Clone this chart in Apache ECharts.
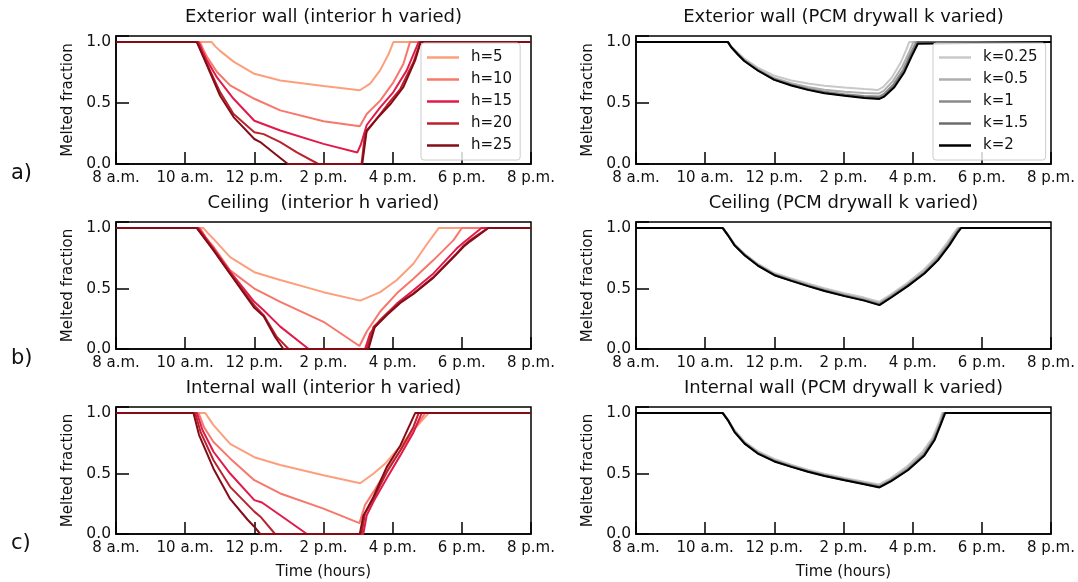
<!DOCTYPE html>
<html>
<head>
<meta charset="utf-8">
<script src="https://cdn.jsdelivr.net/npm/echarts@6/dist/echarts.min.js"></script>
<style>
  html, body { margin: 0; background: #fff; }
  #chart { width: 1078px; height: 582px; }
</style>
</head>
<body>
<div id="chart"></div>
<script>
// x in hours of the day, y = melted fraction
const TICK_HOURS  = [8, 10, 12, 14, 16, 18, 20]
const TICK_LABELS = ['8 a.m.', '10 a.m.', '12 p.m.', '2 p.m.', '4 p.m.', '6 p.m.', '8 p.m.']

const H_NAMES = ['h=5', 'h=10', 'h=15', 'h=20', 'h=25']
const K_NAMES = ['k=0.25', 'k=0.5', 'k=1', 'k=1.5', 'k=2']
const H_COLORS = ['#fc9f7d', '#f7776a', '#e01b4c', '#b8232e', '#850c16']
const K_COLORS = ['#c8c8c8', '#aeaeae', '#8a8a8a', '#6c6c6c', '#000000']

const TITLES = [
  ['Exterior wall (interior h varied)', 'Exterior wall (PCM drywall k varied)'],
  ['Ceiling  (interior h varied)',      'Ceiling (PCM drywall k varied)'],
  ['Internal wall (interior h varied)', 'Internal wall (PCM drywall k varied)'],
]
const ROW_TAGS = ['a)', 'b)', 'c)']

// Exterior wall, h varied
const extH5  = [[8,1],[10.77,1],[10.87,0.965],[11.0,0.93],[11.4,0.84],[12.0,0.74],[12.75,0.685],[14.0,0.64],[15.05,0.605],[15.35,0.66],[15.64,0.77],[15.88,0.9],[16.02,1],[20,1]]
const extH10 = [[8,1],[10.43,1],[10.52,0.94],[10.63,0.88],[10.92,0.755],[11.3,0.645],[12.0,0.535],[12.75,0.44],[14.0,0.35],[15.05,0.31],[15.25,0.41],[15.64,0.52],[16.02,0.67],[16.31,0.82],[16.5,1],[20,1]]
const extH15 = [[8,1],[10.39,1],[10.5,0.925],[10.63,0.85],[10.92,0.71],[11.4,0.535],[12.0,0.355],[12.75,0.275],[14.0,0.165],[14.98,0.095],[15.08,0.16],[15.25,0.32],[15.64,0.465],[16.02,0.59],[16.41,0.77],[16.75,1],[20,1]]
const extH20 = [[8,1],[10.34,1],[10.63,0.82],[11.01,0.59],[11.4,0.41],[12.0,0.26],[12.27,0.245],[12.75,0.18],[13.23,0.095],[13.85,0],[15.1,0],[15.2,0.25],[15.45,0.34],[15.83,0.48],[16.22,0.615],[16.6,0.835],[16.8,1],[20,1]]
const extH25 = [[8,1],[10.34,1],[10.63,0.81],[11.01,0.56],[11.4,0.385],[12.0,0.205],[12.17,0.18],[12.55,0.095],[12.97,0],[15.12,0],[15.25,0.275],[15.54,0.37],[15.93,0.49],[16.31,0.63],[16.65,0.85],[16.81,1],[20,1]]

// Ceiling, h varied
const ceilH5  = [[8,1],[10.53,1],[10.65,0.96],[10.82,0.91],[11.3,0.76],[12.0,0.635],[12.75,0.57],[14.0,0.47],[15.06,0.4],[15.64,0.47],[16.12,0.57],[16.6,0.705],[17.0,0.87],[17.33,1],[20,1]]
const ceilH10 = [[8,1],[10.43,1],[10.6,0.92],[10.82,0.845],[11.3,0.65],[12.0,0.5],[12.75,0.39],[14.0,0.225],[15.04,0.025],[15.25,0.145],[15.64,0.31],[16.12,0.46],[16.6,0.58],[17.18,0.735],[17.76,0.9],[18.0,1],[20,1]]
const ceilH15 = [[8,1],[10.39,1],[10.82,0.83],[11.3,0.64],[12.0,0.39],[12.27,0.32],[12.75,0.185],[13.57,0],[15.2,0],[15.35,0.13],[15.64,0.24],[16.12,0.375],[16.6,0.485],[17.18,0.625],[17.85,0.83],[18.05,0.88],[18.57,1],[20,1]]
const ceilH20 = [[8,1],[10.34,1],[10.82,0.82],[11.3,0.625],[12.0,0.36],[12.27,0.28],[12.65,0.1],[12.99,0],[15.25,0],[15.45,0.185],[15.83,0.29],[16.22,0.39],[16.6,0.46],[17.18,0.595],[17.85,0.79],[18.05,0.855],[18.24,0.9],[18.75,1],[20,1]]
const ceilH25 = [[8,1],[10.34,1],[10.82,0.815],[11.3,0.62],[12.0,0.34],[12.27,0.27],[12.6,0.1],[12.84,0],[15.3,0],[15.48,0.18],[15.85,0.285],[16.22,0.38],[16.6,0.455],[17.18,0.59],[17.85,0.785],[18.05,0.845],[18.24,0.89],[18.77,1],[20,1]]

// Internal wall, h varied
const intH5  = [[8,1],[10.58,1],[10.7,0.95],[10.82,0.9],[11.3,0.745],[12.0,0.635],[12.75,0.57],[14.0,0.485],[15.06,0.42],[15.45,0.5],[15.78,0.58],[16.2,0.72],[16.6,0.86],[17.04,1],[20,1]]
const intH10 = [[8,1],[10.39,1],[10.55,0.88],[10.82,0.76],[11.3,0.625],[12.0,0.445],[12.75,0.335],[14.0,0.21],[15.04,0.09],[15.2,0.24],[15.45,0.35],[15.83,0.53],[16.22,0.69],[16.6,0.855],[16.94,1],[20,1]]
const intH15 = [[8,1],[10.34,1],[10.5,0.86],[10.82,0.68],[11.3,0.5],[12.0,0.28],[12.22,0.26],[12.75,0.155],[13.52,0],[15.15,0],[15.25,0.155],[15.45,0.27],[15.83,0.46],[16.22,0.65],[16.6,0.84],[16.84,1],[20,1]]
const intH20 = [[8,1],[10.29,1],[10.45,0.84],[10.82,0.61],[11.3,0.39],[12.0,0.185],[12.17,0.145],[12.6,0],[15.1,0],[15.2,0.17],[15.45,0.295],[15.83,0.51],[16.22,0.69],[16.6,0.885],[16.75,1],[20,1]]
const intH25 = [[8,1],[10.24,1],[10.4,0.82],[10.82,0.54],[11.3,0.29],[11.8,0.12],[12.0,0.06],[12.17,0],[15.05,0],[15.15,0.15],[15.45,0.31],[15.83,0.555],[16.22,0.73],[16.65,1],[20,1]]

// Exterior wall, k varied
const extK025 = [[8,1],[10.66,1],[10.75,0.965],[10.94,0.915],[11.13,0.865],[11.52,0.79],[12.0,0.725],[12.49,0.685],[12.97,0.66],[13.45,0.642],[14.03,0.627],[14.6,0.615],[15.0,0.608],[15.14,0.63],[15.4,0.71],[15.65,0.83],[15.82,0.94],[15.9,1],[20,1]]
const extK05  = [[8,1],[10.66,1],[10.75,0.962],[10.94,0.908],[11.13,0.855],[11.52,0.778],[12.0,0.705],[12.49,0.663],[12.97,0.632],[13.45,0.61],[14.03,0.592],[14.6,0.582],[15.02,0.578],[15.16,0.6],[15.43,0.68],[15.7,0.8],[15.9,0.92],[16.02,1],[20,1]]
const extK1   = [[8,1],[10.66,1],[10.75,0.961],[10.94,0.903],[11.13,0.85],[11.52,0.772],[12.0,0.697],[12.49,0.653],[12.97,0.618],[13.45,0.592],[14.03,0.572],[14.6,0.558],[15.03,0.553],[15.17,0.575],[15.45,0.655],[15.73,0.775],[15.93,0.9],[16.1,1],[20,1]]
const extK15  = [[8,1],[10.66,1],[10.75,0.96],[10.94,0.9],[11.13,0.847],[11.52,0.769],[12.0,0.692],[12.49,0.647],[12.97,0.611],[13.45,0.584],[14.03,0.563],[14.6,0.548],[15.04,0.541],[15.18,0.561],[15.46,0.64],[15.75,0.762],[15.95,0.888],[16.15,1],[20,1]]
const extK2   = [[8,1],[10.66,1],[10.75,0.96],[10.94,0.9],[11.13,0.845],[11.52,0.767],[12.0,0.69],[12.49,0.644],[12.97,0.608],[13.45,0.58],[14.03,0.559],[14.6,0.542],[15.04,0.534],[15.18,0.553],[15.47,0.63],[15.76,0.753],[15.96,0.877],[16.15,0.986],[16.2,1],[20,1]]

// Ceiling, k varied
const ceilK025 = [[8,1],[10.51,1],[10.66,0.945],[10.85,0.867],[11.14,0.788],[11.52,0.705],[12.0,0.628],[12.49,0.583],[12.97,0.542],[13.45,0.503],[14.03,0.462],[14.6,0.425],[15.03,0.39],[15.36,0.45],[15.84,0.545],[16.3,0.65],[16.68,0.76],[17.0,0.88],[17.22,0.97],[17.3,1],[20,1]]
const ceilK05  = [[8,1],[10.51,1],[10.66,0.943],[10.85,0.863],[11.14,0.782],[11.52,0.698],[12.0,0.62],[12.49,0.574],[12.97,0.532],[13.45,0.493],[14.03,0.45],[14.6,0.413],[15.03,0.38],[15.37,0.44],[15.85,0.535],[16.32,0.638],[16.7,0.748],[17.02,0.87],[17.26,0.97],[17.34,1],[20,1]]
const ceilK1   = [[8,1],[10.51,1],[10.66,0.941],[10.85,0.86],[11.14,0.778],[11.52,0.694],[12.0,0.615],[12.49,0.568],[12.97,0.526],[13.45,0.486],[14.03,0.443],[14.6,0.406],[15.04,0.371],[15.37,0.433],[15.85,0.527],[16.33,0.63],[16.71,0.74],[17.04,0.863],[17.28,0.968],[17.37,1],[20,1]]
const ceilK15  = [[8,1],[10.51,1],[10.66,0.94],[10.85,0.858],[11.14,0.776],[11.52,0.692],[12.0,0.612],[12.49,0.565],[12.97,0.522],[13.45,0.482],[14.03,0.44],[14.6,0.402],[15.04,0.366],[15.38,0.429],[15.86,0.523],[16.34,0.626],[16.72,0.736],[17.05,0.86],[17.3,0.967],[17.38,1],[20,1]]
const ceilK2   = [[8,1],[10.51,1],[10.66,0.94],[10.85,0.857],[11.14,0.775],[11.52,0.69],[12.0,0.61],[12.49,0.563],[12.97,0.52],[13.45,0.48],[14.03,0.437],[14.6,0.4],[15.04,0.363],[15.38,0.426],[15.86,0.52],[16.34,0.624],[16.73,0.733],[17.06,0.857],[17.31,0.967],[17.4,1],[20,1]]

// Internal wall, k varied
const intK025 = [[8,1],[10.51,1],[10.66,0.945],[10.85,0.858],[11.14,0.765],[11.52,0.685],[12.0,0.62],[12.49,0.573],[12.97,0.532],[13.45,0.498],[14.03,0.463],[14.6,0.432],[15.03,0.41],[15.36,0.46],[15.84,0.56],[16.3,0.685],[16.58,0.8],[16.77,0.93],[16.85,1],[20,1]]
const intK05  = [[8,1],[10.51,1],[10.66,0.943],[10.85,0.852],[11.14,0.757],[11.52,0.676],[12.0,0.611],[12.49,0.565],[12.97,0.524],[13.45,0.49],[14.03,0.455],[14.6,0.423],[15.03,0.4],[15.37,0.45],[15.85,0.545],[16.32,0.67],[16.6,0.79],[16.8,0.922],[16.88,1],[20,1]]
const intK1   = [[8,1],[10.51,1],[10.66,0.941],[10.85,0.848],[11.14,0.752],[11.52,0.671],[12.0,0.605],[12.49,0.56],[12.97,0.519],[13.45,0.485],[14.03,0.45],[14.6,0.417],[15.04,0.392],[15.37,0.443],[15.85,0.535],[16.33,0.66],[16.61,0.782],[16.81,0.916],[16.9,1],[20,1]]
const intK15  = [[8,1],[10.51,1],[10.66,0.94],[10.85,0.845],[11.14,0.749],[11.52,0.668],[12.0,0.602],[12.49,0.557],[12.97,0.516],[13.45,0.482],[14.03,0.447],[14.6,0.414],[15.04,0.388],[15.38,0.44],[15.86,0.53],[16.34,0.654],[16.62,0.778],[16.82,0.913],[16.92,1],[20,1]]
const intK2   = [[8,1],[10.51,1],[10.66,0.94],[10.85,0.843],[11.14,0.747],[11.52,0.665],[12.0,0.6],[12.49,0.555],[12.97,0.514],[13.45,0.48],[14.03,0.445],[14.6,0.412],[15.04,0.385],[15.38,0.437],[15.86,0.527],[16.34,0.65],[16.63,0.775],[16.82,0.912],[16.94,1],[20,1]]

const PANELS = [
  [[extH5, extH10, extH15, extH20, extH25],      [extK025, extK05, extK1, extK15, extK2]],
  [[ceilH5, ceilH10, ceilH15, ceilH20, ceilH25], [ceilK025, ceilK05, ceilK1, ceilK15, ceilK2]],
  [[intH5, intH10, intH15, intH20, intH25],      [intK025, intK05, intK1, intK15, intK2]],
]

const FONT = 'DejaVu Sans'
const COL_LEFT = [116, 636]
const ROW_TOP  = [36, 222, 407]
const ROW_H    = [128, 127, 127]
const PLOT_W   = 415

const grids = [], xAxes = [], yAxes = [], series = [], graphics = []

PANELS.forEach((row, r) => {
  row.forEach((lines, c) => {
    const idx = grids.length
    grids.push({
      left: COL_LEFT[c], top: ROW_TOP[r], width: PLOT_W, height: ROW_H[r],
      show: true, borderColor: '#000', borderWidth: 1.5, backgroundColor: 'transparent',
    })
    xAxes.push({
      gridIndex: idx, type: 'value', min: 8, max: 20, interval: 2,
      axisLine:  { lineStyle: { color: '#000', width: 1.5 } },
      axisTick:  { inside: true, length: 12, lineStyle: { color: '#000', width: 1.5 } },
      axisLabel: {
        color: '#111', fontSize: 15, fontFamily: FONT, margin: 7,
        formatter: v => TICK_LABELS[TICK_HOURS.indexOf(v)] ?? '',
      },
      splitLine: { show: false },
      name: r === 2 ? 'Time (hours)' : '',
      nameLocation: 'middle', nameGap: 31,
      nameTextStyle: { color: '#111', fontSize: 15, fontFamily: FONT },
    })
    yAxes.push({
      gridIndex: idx, type: 'value', min: 0, max: 1.05, interval: 0.5,
      axisLine:  { lineStyle: { color: '#000', width: 1.5 } },
      axisTick:  { inside: true, length: 13, lineStyle: { color: '#000', width: 1.5 } },
      axisLabel: {
        color: '#111', fontSize: 15.5, fontFamily: FONT, margin: 5,
        formatter: v => (Math.abs(v * 2 - Math.round(v * 2)) < 1e-6 ? v.toFixed(1) : ''),
      },
      splitLine: { show: false },
      name: 'Melted fraction', nameLocation: 'middle', nameGap: 40,
      nameTextStyle: { color: '#111', fontSize: 15, fontFamily: FONT },
    })
    const names  = c === 0 ? H_NAMES : K_NAMES
    const colors = c === 0 ? H_COLORS : K_COLORS
    lines.forEach((data, i) => {
      series.push({
        type: 'line', name: names[i], data,
        xAxisIndex: idx, yAxisIndex: idx,
        showSymbol: false, symbol: 'none',
        lineStyle: { color: colors[i], width: 2 },
        itemStyle: { color: colors[i] },
        z: 2 + i,
      })
    })
    graphics.push({
      type: 'text', x: COL_LEFT[c] + PLOT_W / 2, y: ROW_TOP[r] - 19,
      style: { text: TITLES[r][c], fill: '#111', font: `18px "${FONT}"`, textAlign: 'center', textVerticalAlign: 'middle' },
    })
  })
  graphics.push({
    type: 'text', x: 11, y: ROW_TOP[r] + ROW_H[r] + 10,
    style: { text: ROW_TAGS[r], fill: '#111', font: `21px "${FONT}"`, textAlign: 'left', textVerticalAlign: 'middle' },
  })
})

const legendBase = {
  orient: 'vertical', top: 43, icon: 'rect', itemWidth: 32, itemHeight: 2.5, itemGap: 7,
  padding: [7, 8, 7, 6],
  borderColor: '#ccc', borderWidth: 1, borderRadius: 3,
  backgroundColor: 'rgba(255,255,255,0.8)',
  textStyle: { color: '#111', fontSize: 15, fontFamily: FONT, padding: [0, 0, 0, 7] },
  selectedMode: false, z: 20,
}

const chart = echarts.init(document.getElementById('chart'), null, { renderer: 'canvas' })
chart.setOption({
  backgroundColor: '#fff',
  animation: false,
  grid: grids,
  xAxis: xAxes,
  yAxis: yAxes,
  legend: [
    { ...legendBase, left: 421, data: H_NAMES },
    { ...legendBase, left: 933, data: K_NAMES },
  ],
  graphic: graphics,
  series,
})
</script>
</body>
</html>
